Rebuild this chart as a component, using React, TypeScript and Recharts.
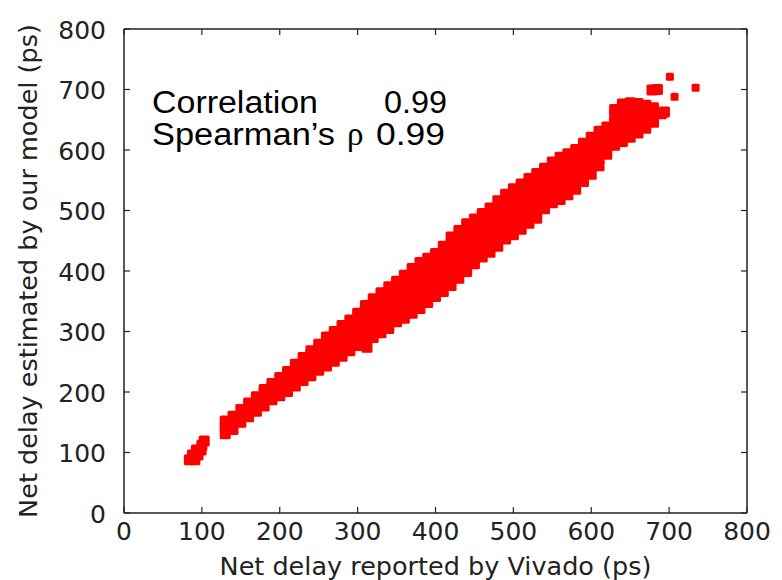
import React from 'react';
import { ScatterChart, Scatter, XAxis, YAxis } from 'recharts';

// delay values in ps
const axisTicks = [0, 100, 200, 300, 400, 500, 600, 700, 800];

// small isolated group at the short end
const lowBlob: [number, number][] = [
  [84, 88], [91, 88], [88, 96], [95, 96], [93, 104], [99, 104], [100, 112], [103, 119],
];

// main band: vivado delay -> model estimates seen in that column
const bandColumns: [number, number[]][] = [
  [130, [131, 143, 152]],
  [140, [138, 150, 160]],
  [150, [150, 160, 171]],
  [160, [159, 170, 182]],
  [170, [168, 180, 192]],
  [180, [177, 188, 198, 204]],
  [190, [187, 198, 208, 214]],
  [200, [194, 204, 214, 224]],
  [210, [201, 212, 223, 234]],
  [220, [210, 222, 234, 246]],
  [230, [219, 231, 243, 257]],
  [240, [227, 239, 251, 262, 268]],
  [250, [236, 248, 260, 271, 279]],
  [260, [243, 255, 267, 279, 291]],
  [270, [251, 263, 275, 288, 300]],
  [280, [259, 271, 284, 297, 310]],
  [290, [268, 280, 293, 306, 319]],
  [300, [277, 289, 302, 316, 330]],
  [310, [283, 296, 310, 324, 337, 343]],
  [320, [290, 303, 316, 329, 342, 354]],
  [330, [298, 311, 324, 338, 351, 364]],
  [340, [305, 318, 332, 346, 360, 374]],
  [350, [316, 329, 343, 357, 371, 383]],
  [360, [322, 336, 350, 365, 380, 393]],
  [370, [330, 344, 359, 374, 389, 404]],
  [380, [338, 353, 368, 384, 400, 414]],
  [390, [348, 362, 377, 392, 407, 421]],
  [400, [358, 372, 387, 402, 416, 429]],
  [410, [366, 381, 396, 411, 426, 441]],
  [420, [376, 391, 407, 423, 440, 456]],
  [430, [388, 403, 419, 435, 451, 467]],
  [440, [399, 414, 430, 446, 462, 478]],
  [450, [412, 427, 442, 457, 472, 486]],
  [460, [423, 437, 452, 467, 482, 495]],
  [470, [431, 446, 461, 476, 491, 504]],
  [480, [441, 456, 471, 486, 501, 516]],
  [490, [453, 468, 483, 498, 513, 527]],
  [500, [460, 475, 491, 506, 521, 536]],
  [510, [469, 484, 499, 514, 530, 544]],
  [520, [479, 494, 509, 524, 539, 553]],
  [530, [487, 502, 517, 532, 547, 561]],
  [540, [503, 517, 531, 545, 558, 570]],
  [550, [513, 527, 541, 554, 567, 580]],
  [560, [518, 532, 546, 560, 574, 588]],
  [570, [526, 540, 554, 568, 582, 594]],
  [580, [535, 549, 563, 576, 589, 601]],
  [590, [548, 561, 574, 587, 600, 611]],
  [600, [560, 573, 586, 598, 610, 621]],
  [610, [574, 586, 598, 610, 621, 631]],
  [620, [593, 605, 617, 628, 638]],
  [630, [608, 620, 632, 644, 656, 667]],
  [640, [614, 626, 638, 650, 662, 676]],
  [650, [621, 633, 645, 657, 668, 678]],
  [660, [628, 640, 652, 664, 677]],
  [670, [636, 648, 660, 674]],
  [680, [646, 658, 670]],
  [690, [660]],
];

// stray bits on the band edges
const bandExtras: [number, number][] = [
  [312, 274], [694, 663], [678, 699], [685, 700],
];

const outliers: [number, number][] = [
  [701, 721], [707, 688], [734, 703],
];

const toPoints = (list: [number, number][]) => list.map(([x, y]) => ({ x, y }));
const bandPoints = [
  ...toPoints(lowBlob),
  ...bandColumns.flatMap(([x, ys]) => ys.map(y => ({ x, y }))),
  ...toPoints(bandExtras),
];
const outlierPoints = toPoints(outliers);

const RED = '#ff0000';
const INK = '#222';
const TICK_FONT = 25;
const LABEL_FONT = 25.5;

const squareMark = (side: number) => (props: any) => (
  <rect
    x={props.cx - side / 2}
    y={props.cy - side / 2}
    width={side}
    height={side}
    rx={1.5}
    fill={RED}
  />
);

const BottomTick = ({ x, y, payload }: any) => (
  <g>
    <line x1={x} y1={y} x2={x} y2={y - 6} stroke={INK} strokeWidth={1.2} />
    <text x={x} y={y + 27} textAnchor="middle" fontSize={TICK_FONT} fill={INK}>{payload.value}</text>
  </g>
);

const LeftTick = ({ x, y, payload }: any) => (
  <g>
    <line x1={x} y1={y} x2={x + 6} y2={y} stroke={INK} strokeWidth={1.2} />
    <text x={x - 18} y={y + 9.5} textAnchor="end" fontSize={TICK_FONT} fill={INK}>{payload.value}</text>
  </g>
);

const TopTick = ({ x, y }: any) => (
  <line x1={x} y1={y} x2={x} y2={y + 6} stroke={INK} strokeWidth={1.2} />
);

const RightTick = ({ x, y }: any) => (
  <line x1={x} y1={y} x2={x - 6} y2={y} stroke={INK} strokeWidth={1.2} />
);

const YLabel = ({ viewBox }: any) => {
  const cx = viewBox.x + 37;
  const cy = viewBox.y + viewBox.height / 2;
  return (
    <text x={cx} y={cy} transform={`rotate(-90 ${cx} ${cy})`} textAnchor="middle" fontSize={LABEL_FONT} fill={INK}>
      Net delay estimated by our model (ps)
    </text>
  );
};

const XLabel = ({ viewBox }: any) => (
  <text x={viewBox.x + viewBox.width / 2} y={viewBox.y + viewBox.height - 5} textAnchor="middle" fontSize={LABEL_FONT} fill={INK}>
    Net delay reported by Vivado (ps)
  </text>
);

const frame = { stroke: INK, strokeWidth: 1.5 };

export default function App() {
  return (
    <div style={{ position: 'absolute', left: 0, top: 0, width: 782, height: 580, background: '#fff', fontFamily: '"DejaVu Sans", sans-serif' }}>
      <ScatterChart width={782} height={580} margin={{ top: 0, right: 0, bottom: 0, left: 0 }}>
        <XAxis
          xAxisId="bottom"
          type="number"
          dataKey="x"
          domain={[0, 800]}
          ticks={axisTicks}
          height={67}
          tickSize={0}
          tickMargin={0}
          tickLine={false}
          axisLine={frame}
          tick={<BottomTick />}
          label={{ content: <XLabel /> }}
        />
        <XAxis
          xAxisId="top"
          orientation="top"
          type="number"
          dataKey="x"
          domain={[0, 800]}
          ticks={axisTicks}
          height={29}
          tickSize={0}
          tickMargin={0}
          tickLine={false}
          axisLine={frame}
          tick={<TopTick />}
        />
        <YAxis
          yAxisId="left"
          type="number"
          dataKey="y"
          domain={[0, 800]}
          ticks={axisTicks}
          width={124}
          tickSize={0}
          tickMargin={0}
          tickLine={false}
          axisLine={frame}
          tick={<LeftTick />}
          label={{ content: <YLabel /> }}
        />
        <YAxis
          yAxisId="right"
          orientation="right"
          type="number"
          dataKey="y"
          domain={[0, 800]}
          ticks={axisTicks}
          width={35}
          tickSize={0}
          tickMargin={0}
          tickLine={false}
          axisLine={frame}
          tick={<RightTick />}
        />
        <Scatter
          xAxisId="bottom"
          yAxisId="left"
          data={bandPoints}
          shape={squareMark(11)}
          isAnimationActive={false}
        />
        <Scatter
          xAxisId="top"
          yAxisId="right"
          data={outlierPoints}
          shape={squareMark(8)}
          isAnimationActive={false}
        />
      </ScatterChart>
      <svg width={782} height={580} style={{ position: 'absolute', left: 0, top: 0, pointerEvents: 'none' }}>
        <g fontFamily='"Liberation Sans", Arial, sans-serif' fontSize={31} fill="#000">
          <text x={152} y={113} textLength={166} lengthAdjust="spacingAndGlyphs">Correlation</text>
          <text x={384} y={113} textLength={63} lengthAdjust="spacingAndGlyphs">0.99</text>
          <text x={152} y={145} textLength={183} lengthAdjust="spacingAndGlyphs">Spearman’s</text>
          <text x={347} y={145} fontFamily='"Liberation Serif", serif' fontSize={33}>ρ</text>
          <text x={376} y={145} textLength={69} lengthAdjust="spacingAndGlyphs">0.99</text>
        </g>
      </svg>
    </div>
  );
}
